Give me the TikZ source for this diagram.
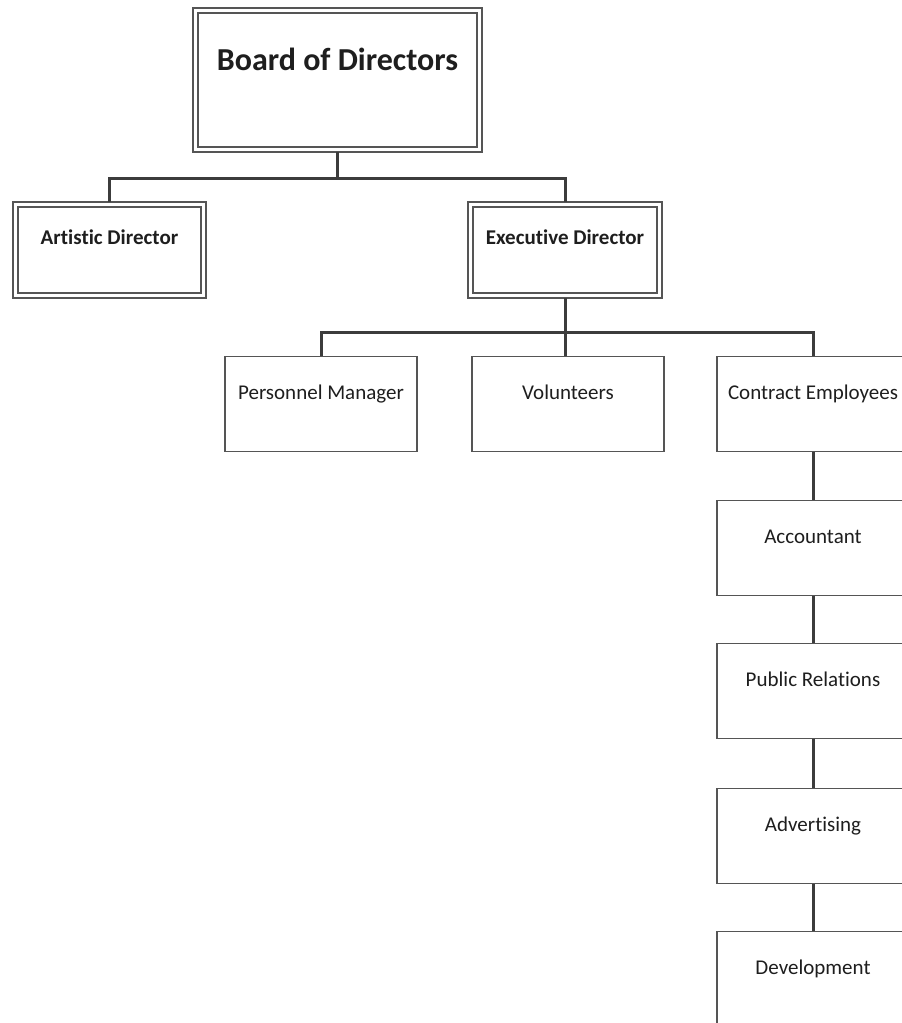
\documentclass[tikz,border=0pt]{standalone}
\usepackage{fontspec}
\setmainfont{Carlito}[Ligatures=CommonOff]
\definecolor{boxgray}{HTML}{555555}
\definecolor{linegray}{HTML}{3C3C3C}
\definecolor{txt}{HTML}{1E1E1E}
\begin{document}
\begin{tikzpicture}[x=1pt,y=-1pt,
  dbox/.style={draw=boxgray, line width=1.2pt, double=white, double distance=3.8pt,
    outer sep=2.5pt, inner sep=0pt, anchor=north, text=txt,
    font=\bfseries\fontsize{21}{25}\selectfont},
  sbox/.style={draw=boxgray, line width=1.2pt, minimum width=192pt, minimum height=95pt,
    text height=42.5pt, text depth=52.5pt, inner sep=0pt, anchor=north, text=txt,
    font=\fontsize{21}{25}\selectfont},
  conn/.style={draw=linegray, line width=3pt}]
\useasboundingbox (0,0) rectangle (902,1023);
\fill[white] (0,0) rectangle (902,1023);
\clip (0,0) rectangle (902,1023);

% top level
\node[dbox, minimum width=284pt, minimum height=139pt, text height=60pt, text depth=79pt,
  font=\bfseries\fontsize{32}{38}\selectfont] (bod) at (337.5,8) {Board of Directors};
\node[dbox, minimum width=188pt, minimum height=91pt, text height=40pt, text depth=51pt] (ad) at (109.5,202) {Artistic Director};
\node[dbox, minimum width=189pt, minimum height=91pt, text height=40pt, text depth=51pt] (ed) at (565,202) {Executive Director};

% second level
\node[sbox] (pm) at (321,356) {Personnel Manager};
\node[sbox] (vol) at (568,356) {Volunteers};
\node[sbox] (ce) at (813,356) {Contract Employees};

% chain
\node[sbox] (acc) at (813,500) {Accountant};
\node[sbox] (pr) at (813,643) {Public Relations};
\node[sbox] (adv) at (813,788) {Advertising};
\node[sbox] (dev) at (813,931) {Development};

% connectors
\coordinate (j1) at (337.5,178);
\draw[conn] (bod.south) -- (j1);
\draw[conn] (j1) -| (ad.north);
\draw[conn] (j1) -| (ed.north);

\coordinate (j2) at (565,332);
\draw[conn] (ed.south) -- (j2);
\draw[conn] (j2) -| (pm.north);
\draw[conn] (j2) -- (j2 |- vol.north);
\draw[conn] (j2) -| (ce.north);

\draw[conn] (ce.south) -- (acc.north);
\draw[conn] (acc.south) -- (pr.north);
\draw[conn] (pr.south) -- (adv.north);
\draw[conn] (adv.south) -- (dev.north);
\end{tikzpicture}
\end{document}
